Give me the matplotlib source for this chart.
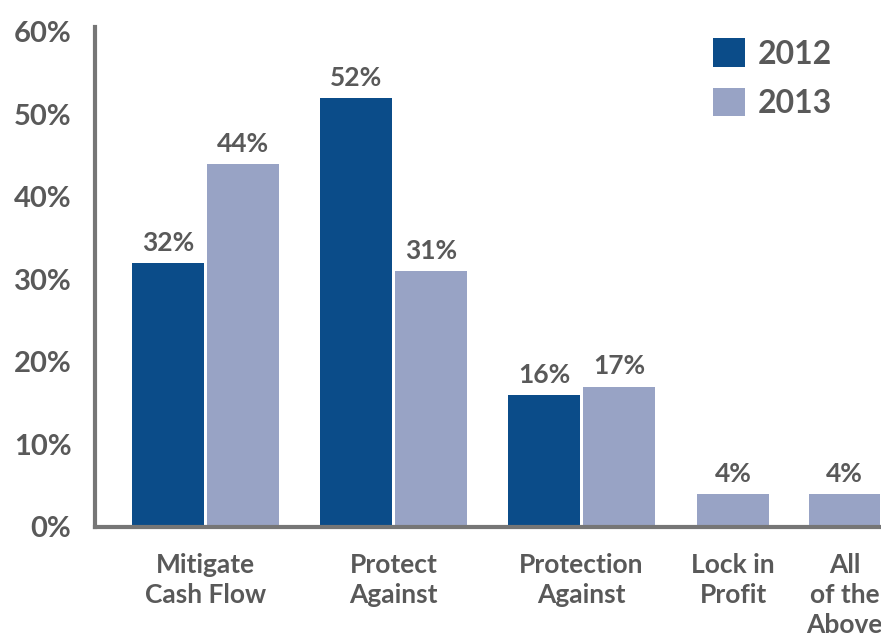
import matplotlib
matplotlib.use('Agg')
import matplotlib.pyplot as plt
import numpy as np

plt.rcParams['font.family'] = ['Lato', 'DejaVu Sans']
plt.rcParams['font.weight'] = 'bold'

categories = ['Mitigate\nCash Flow', 'Protect\nAgainst', 'Protection\nAgainst',
              'Lock in\nProfit', 'All\nof the\nAbove']
v2012 = [32, 52, 16, None, None]
v2013 = [44, 31, 17, 4, 4]
yticks = [0, 10, 20, 30, 40, 50, 60]

# category centres (in group units), last two groups are narrower
centers = [0, 1, 2, 2.806, 3.40]
width = 0.38
gap = 0.02

c2012 = '#0B4C89'
c2013 = '#98A3C5'
txt = '#595959'
axis_c = '#767676'

fig = plt.figure(figsize=(8.81, 6.37), dpi=100)
ax = fig.add_axes([0.1078, 0.1727, 1 - 0.1078, 0.785])

first12 = True
first13 = True
for i, c in enumerate(centers):
    a, b = v2012[i], v2013[i]
    if a is not None:
        x12 = c - width / 2 - gap / 2
        x13 = c + width / 2 + gap / 2
        ax.bar(x12, a, width=width, color=c2012, label='2012' if first12 else None)
        first12 = False
        ax.annotate('%d%%' % a, (x12, a), xytext=(0, 6), textcoords='offset points',
                    ha='center', va='bottom', fontsize=19, color=txt)
    else:
        x13 = c
    ax.bar(x13, b, width=width, color=c2013, label='2013' if first13 else None)
    first13 = False
    ax.annotate('%d%%' % b, (x13, b), xytext=(0, 6), textcoords='offset points',
                ha='center', va='bottom', fontsize=19, color=txt)

ax.set_xlim(-0.588, 3.593)
ax.set_ylim(0, 60.6)
ax.set_yticks(yticks)
ax.set_yticklabels(['%d%%' % t for t in yticks])
ax.set_xticks(centers)
ax.set_xticklabels(categories, linespacing=1.3)
ax.tick_params(axis='y', length=0, pad=17, labelsize=21, labelcolor=txt)
ax.tick_params(axis='x', length=0, pad=19, labelsize=19, labelcolor=txt)

for s in ['top', 'right']:
    ax.spines[s].set_visible(False)
for s in ['left', 'bottom']:
    ax.spines[s].set_color(axis_c)
    ax.spines[s].set_linewidth(3)

leg = fig.legend(loc='upper left', bbox_to_anchor=(0.777, 0.985), frameon=False,
                 fontsize=23, handlelength=1.0, handleheight=1.0,
                 handletextpad=0.4, labelspacing=0.6)
for t in leg.get_texts():
    t.set_color(txt)

plt.savefig('out.png', dpi=100)
